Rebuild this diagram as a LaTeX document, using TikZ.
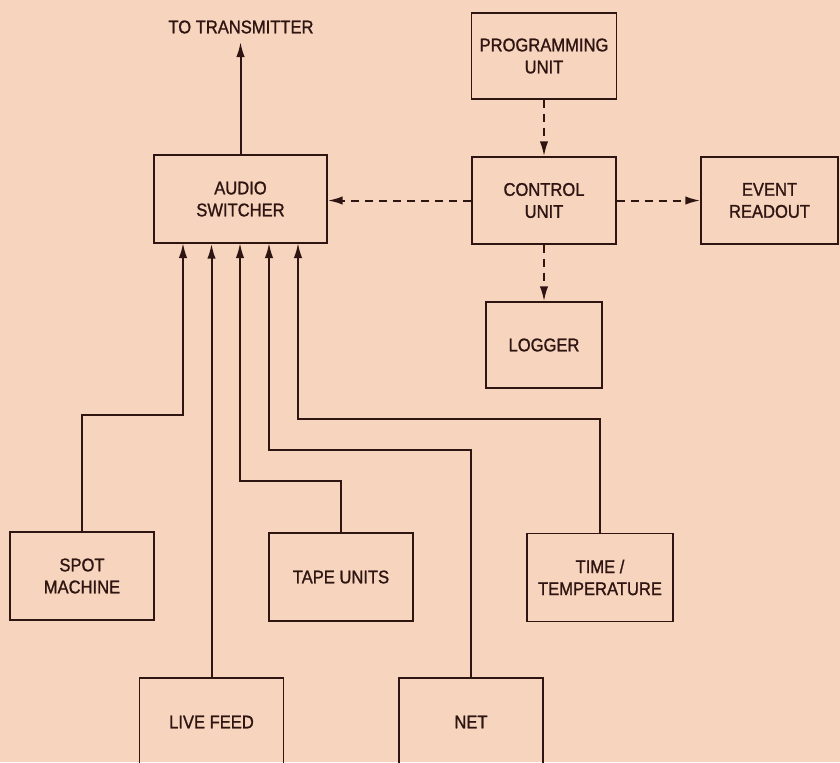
\documentclass[tikz,border=0pt]{standalone}
\usepackage{fontspec}
\setmainfont{Liberation Sans}[FakeStretch=0.9,FakeBold=1.2]
\usetikzlibrary{arrows.meta,calc}
\definecolor{paper}{HTML}{F7D4BE}
\definecolor{ink}{HTML}{2E1512}

\begin{document}
\begin{tikzpicture}[x=0.5pt,y=-0.5pt,
  box/.style={draw=ink,line width=0.7pt,align=center,inner sep=0pt,text=ink,
    font=\fontsize{9.2}{11}\selectfont,minimum width=72pt,minimum height=44pt},
  feed/.style={draw=ink,line width=1pt,-{Latex[length=7.5pt,width=4.2pt]}},
  ctrl/.style={feed,dash pattern=on 4pt off 3pt}]
  \useasboundingbox (0,0) rectangle (840,762);
  \fill[paper] (0,0) rectangle (840,762);
  \clip (0,0) rectangle (840,762);

  % control side
  \node[box,minimum width=86.5pt] (switcher) at (240.5,199) {AUDIO\\SWITCHER};
  \node[box,minimum width=72.5pt,minimum height=43pt] (prog) at (544,56) {PROGRAMMING\\UNIT};
  \node[box,minimum height=43.5pt] (control) at (544,200.5) {CONTROL\\UNIT};
  \node[box,minimum width=68.5pt,minimum height=43.5pt] (event) at (769.5,200.5) {EVENT\\READOUT};
  \node[box,minimum width=58pt,minimum height=43pt] (logger) at (544,345) {LOGGER};

  % sources
  \node[box] (spot) at (82,576) {SPOT\\MACHINE};
  \node[box] (tape) at (341,577) {TAPE UNITS};
  \node[box,minimum width=73pt] (time) at (600,577.5) {TIME /\\TEMPERATURE};
  \node[box] (live) at (211.5,722) {LIVE FEED};
  \node[box] (net) at (471,722) {NET};

  \node[text=ink,font=\fontsize{9.2}{11}\selectfont] (tx) at (241,27) {TO TRANSMITTER};
  \coordinate (txend) at (240.5,42);
  \draw[feed] (switcher.north) -- (txend);

  \coordinate (in1) at (183,243);
  \coordinate (in3) at (240,243);
  \coordinate (in4) at (269,243);
  \coordinate (in5) at (298,243);
  \draw[feed] (spot.north) -- (spot.north |- 0,415) -| (in1);
  \draw[feed] (live.north) -- (live.north |- switcher.south);
  \draw[feed] (tape.north) -- (tape.north |- 0,481) -| (in3);
  \draw[feed] (net.north) -- (net.north |- 0,450) -| (in4);
  \draw[feed] (time.north) -- (time.north |- 0,419) -| (in5);

  \draw[ctrl] (prog) -- (control);
  \draw[ctrl] (control) -- (logger);
  \draw[ctrl] (control.west) -- (control.west -| switcher.east);
  \draw[ctrl] (control.east) -- (control.east -| event.west);
\end{tikzpicture}
\end{document}
